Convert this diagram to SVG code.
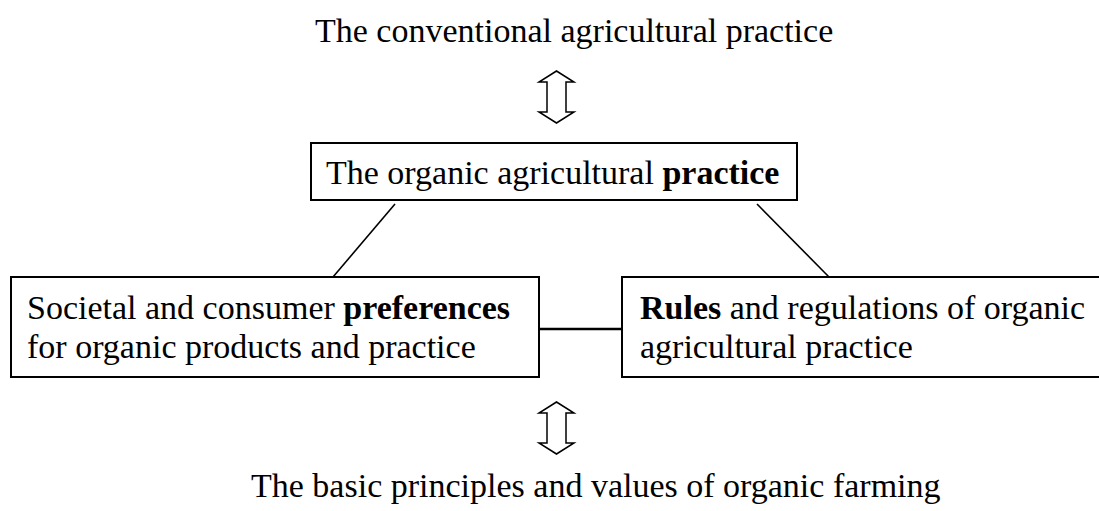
<svg xmlns="http://www.w3.org/2000/svg" width="1099" height="511" viewBox="0 0 1099 511">
<style>
text{font-family:"Liberation Serif","Times New Roman",serif;font-size:34px;fill:#000}
.b{font-weight:bold}
.box{fill:#fff;stroke:#000;stroke-width:2}
.ln{stroke:#000;stroke-width:1.6;fill:none}
.arr{fill:#fff;stroke:#000;stroke-width:1.5;stroke-linejoin:miter}
</style>
<rect width="1099" height="511" fill="#fff"/>
<g id="connectors">
<line class="ln" x1="395" y1="204" x2="333" y2="277"/>
<line class="ln" x1="757" y1="204" x2="829" y2="277"/>
<line class="ln" x1="539" y1="329" x2="622" y2="329" style="stroke-width:2.5"/>
<polygon id="arrow-top" class="arr" points="556.5,71 574,82 566,82 566,112 574,112 556.5,123 539,112 547,112 547,82 539,82"/>
<polygon id="arrow-bottom" class="arr" points="556.5,402 574,413 566,413 566,443 574,443 556.5,454 539,443 547,443 547,413 539,413"/>
</g>
<g id="conventional">
<text x="315" y="42">The conventional agricultural practice</text>
</g>
<g id="organic-practice">
<rect class="box" x="311" y="143" width="486" height="57"/>
<text x="326" y="184">The organic agricultural <tspan class="b">practice</tspan></text>
</g>
<g id="preferences">
<rect class="box" x="11" y="277" width="528" height="100"/>
<text x="27" y="319">Societal and consumer <tspan class="b">preferences</tspan></text>
<text x="27" y="358">for organic products and practice</text>
</g>
<g id="rules">
<rect class="box" x="622" y="277" width="490" height="100"/>
<text x="640" y="319"><tspan class="b">Rules</tspan> and regulations of organic</text>
<text x="640" y="358">agricultural practice</text>
</g>
<g id="principles">
<text x="251" y="497">The basic principles and values of organic farming</text>
</g>
</svg>
